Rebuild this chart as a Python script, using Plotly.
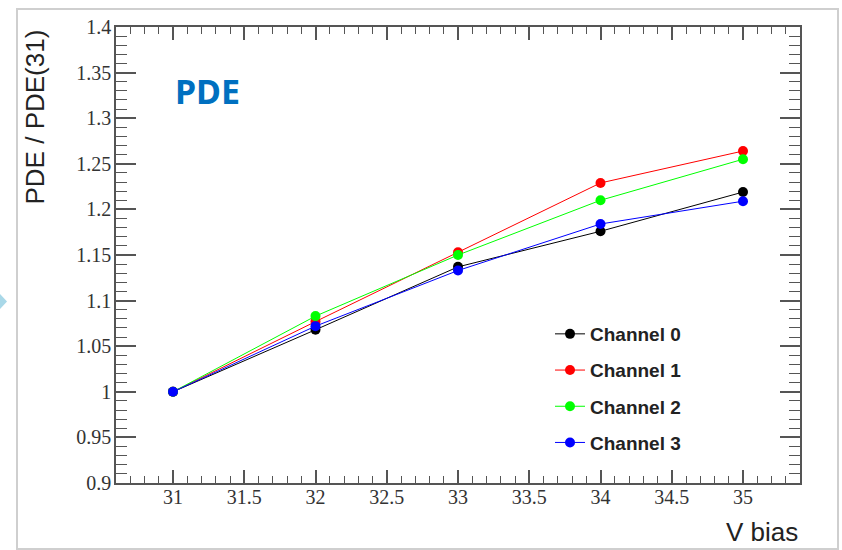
import plotly.graph_objects as go

# Bias voltage scan, PDE normalised to the value at 31 V
v_bias = [31, 32, 33, 34, 35]
channel_0 = [1.000, 1.068, 1.137, 1.176, 1.219]
channel_1 = [1.000, 1.077, 1.153, 1.229, 1.264]
channel_2 = [1.000, 1.083, 1.150, 1.210, 1.255]
channel_3 = [1.000, 1.072, 1.133, 1.184, 1.209]

series = [
    ("Channel 0", channel_0, "#000000"),
    ("Channel 1", channel_1, "#ff0000"),
    ("Channel 2", channel_2, "#00ff00"),
    ("Channel 3", channel_3, "#0000ff"),
]

W, H = 842, 550
L, R, T, B = 116, 42, 27, 67
PW, PH = W - L - R, H - T - B


def px(x):
    return (x - L) / PW


def py(y):
    return (H - B - y) / PH


fig = go.Figure()
for name, vals, col in series:
    fig.add_trace(go.Scatter(
        x=v_bias, y=vals, name=name, mode="lines+markers",
        line=dict(color=col, width=1),
        marker=dict(color=col, size=10),
        legendgroup=name,
    ))

serif = "Liberation Serif"
tick_font = dict(family=serif, size=20, color="#333333")

xaxis = dict(
    range=[30.6, 35.4], tick0=31, dtick=0.5, ticklen=13,
    minor=dict(ticks="inside", dtick=0.1, ticklen=7, tickcolor="#555555", tickwidth=1.2),
    ticklabelstandoff=-5,
    showgrid=False, zeroline=False,
    showline=True, linecolor="#555555", linewidth=1.5,
    mirror="ticks", ticks="inside", tickcolor="#555555", tickwidth=1.5,
    tickfont=tick_font,
)
yaxis = dict(
    range=[0.9, 1.4], tick0=0.9, dtick=0.05, ticklen=20,
    minor=dict(ticks="inside", dtick=0.01, ticklen=11, tickcolor="#555555", tickwidth=1.2),
    ticklabelstandoff=-1,
    showgrid=False, zeroline=False,
    showline=True, linecolor="#555555", linewidth=1.5,
    mirror="ticks", ticks="inside", tickcolor="#555555", tickwidth=1.5,
    tickfont=tick_font,
)

annotations = [
    dict(text="PDE / PDE(31)", x=px(35), y=py(28), xref="paper", yref="paper",
         xanchor="center", yanchor="top", textangle=-90, showarrow=False,
         font=dict(family="Liberation Sans", size=26, color="#222222")),
    dict(text="V bias", x=1.0, y=py(515), xref="paper", yref="paper",
         xanchor="right", yanchor="top", showarrow=False,
         font=dict(family="Liberation Sans", size=26, color="#222222")),
    dict(text="<b>PDE</b>", x=px(207), y=py(91), xref="paper", yref="paper",
         xanchor="center", yanchor="middle", showarrow=False,
         font=dict(family="Noto Sans", size=34, color="#0070c0")),
]

shapes = [
    dict(type="rect", xref="paper", yref="paper",
         x0=px(17), x1=px(838), y0=py(549), y1=py(9),
         line=dict(color="#cfcfcf", width=2), layer="below"),
    dict(type="path", xref="paper", yref="paper",
         path=f"M {px(0)} {py(294)} L {px(7)} {py(301.5)} L {px(0)} {py(309)} Z",
         fillcolor="#a9d8e8", line=dict(width=0)),
]

fig.update_layout(
    width=W, height=H,
    margin=dict(l=L, r=R, t=T, b=B),
    font=dict(family=serif, size=20, color="#333333"),
    paper_bgcolor="white", plot_bgcolor="white",
    xaxis=xaxis, yaxis=yaxis,
    showlegend=True,
    legend=dict(
        x=px(550), y=py(315), xanchor="left", yanchor="top",
        bgcolor="rgba(255,255,255,0)", borderwidth=0,
        tracegroupgap=8.5,
        font=dict(family="Liberation Sans", size=19, color="#222222", weight="bold"),
    ),
    annotations=annotations,
    shapes=shapes,
)

fig.write_html("out.html")
